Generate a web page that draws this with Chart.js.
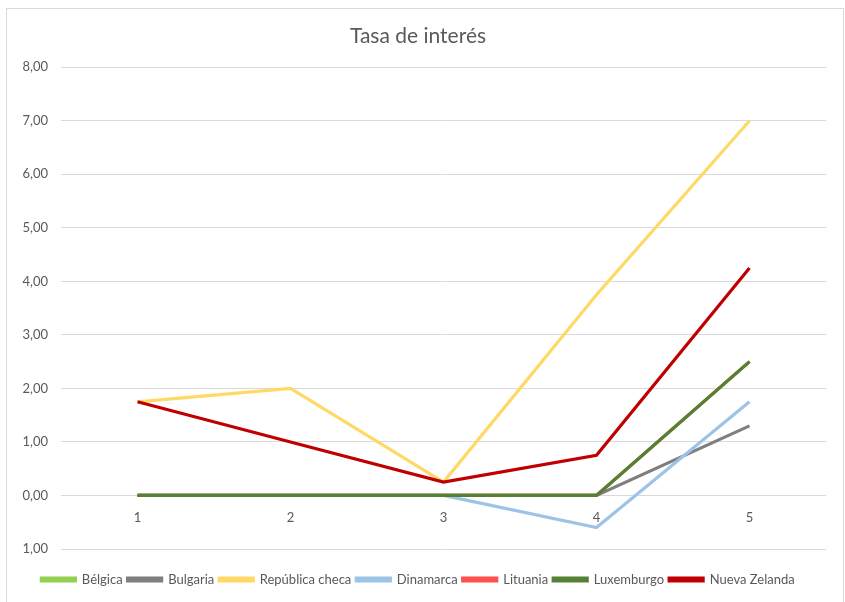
<!DOCTYPE html>
<html>
<head>
<meta charset="utf-8">
<script src="https://cdn.jsdelivr.net/npm/chart.js@4"></script>
<style>
  html, body { margin: 0; padding: 0; background: #fff; overflow: hidden; }
  canvas { display: block; position: absolute; left: 0; top: 0; }
  #marco { position: absolute; left: 6px; top: 8px; width: 836px; height: 620px; border: 1px solid #d9d9d9; pointer-events: none; }
</style>
</head>
<body>
<canvas id="grafico" width="845" height="602"></canvas>
<div id="marco"></div>
<script>
const periodos = ['1', '2', '3', '4', '5'];

const belgica = [0, 0, 0, 0, 2.5];
const bulgaria = [0, 0, 0, 0, 1.3];
const republicaCheca = [1.75, 2.0, 0.25, 3.75, 7.0];
const dinamarca = [0, 0, 0, -0.6, 1.75];
const lituania = [0, 0, 0, 0, 2.5];
const luxemburgo = [0, 0, 0, 0, 2.5];
const nuevaZelanda = [1.75, 1.0, 0.25, 0.75, 4.25];

const nombres = ['Bélgica', 'Bulgaria', 'República checa', 'Dinamarca', 'Lituania', 'Luxemburgo', 'Nueva Zelanda'];
const colores = ['#92d050', '#7f7f7f', '#ffd966', '#9dc3e6', '#ff5050', '#548235', '#c00000'];
const series = [belgica, bulgaria, republicaCheca, dinamarca, lituania, luxemburgo, nuevaZelanda];

const fuente = 'Lato, "Open Sans", sans-serif';
const gris = '#595959';

const ctx = document.getElementById('grafico').getContext('2d');

new Chart(ctx, {
    type: 'line',
    data: {
        labels: periodos,
        datasets: series.map(function(valores, i) {
            return {
                label: nombres[i],
                data: valores,
                borderColor: colores[i],
                backgroundColor: colores[i],
                borderWidth: 3.2,
                pointRadius: 0,
                tension: 0,
                // las últimas series quedan encima, como en Excel
                order: series.length - i
            };
        })
    },
    options: {
        responsive: false,
        animation: false,
        layout: { padding: { left: 10, right: 19, top: 8, bottom: 6 } },
        plugins: {
            title: {
                display: true,
                text: 'Tasa de interés',
                color: gris,
                font: { family: fuente, size: 21, weight: 'normal' },
                padding: { top: 16, bottom: 18 }
            },
            legend: {
                position: 'bottom',
                labels: {
                    color: gris,
                    font: { family: fuente, size: 13 },
                    boxWidth: 34,
                    boxHeight: 3,
                    padding: 5,
                    sort: function(a, b) { return a.datasetIndex - b.datasetIndex; }
                }
            },
            tooltip: { enabled: false }
        },
        scales: {
            x: {
                position: { y: 0 },
                offset: true,
                grid: { display: false },
                border: { display: false },
                ticks: { color: gris, font: { family: fuente, size: 13 }, padding: 7 }
            },
            // eje vacío, solo deja hueco entre el gráfico y la leyenda
            hueco: {
                type: 'category',
                position: 'bottom',
                grid: { display: false },
                border: { display: false },
                ticks: { display: false },
                afterFit: function(scale) { scale.height = 19; }
            },
            y: {
                min: -1,
                max: 8,
                ticks: {
                    stepSize: 1,
                    color: gris,
                    font: { family: fuente, size: 13 },
                    padding: 13,
                    callback: function(v) { return Math.abs(v).toFixed(2).replace('.', ','); }
                },
                grid: { color: '#d9d9d9', lineWidth: 1, drawTicks: false },
                border: { display: false },
                afterFit: function(scale) { scale.width = 51; }
            }
        }
    }
});
</script>
</body>
</html>
